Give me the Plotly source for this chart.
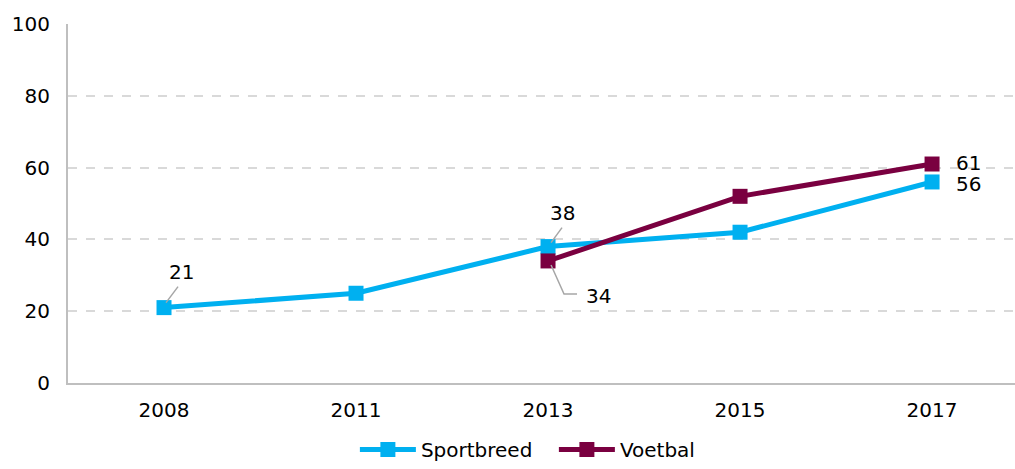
import plotly.graph_objects as go

years = ["2008", "2011", "2013", "2015", "2017"]
sportbreed = [21, 25, 38, 42, 56]
voetbal = [None, None, 34, 52, 61]
y_ticks = [0, 20, 40, 60, 80, 100]

BLUE = "#00B0F0"
MAROON = "#7A0040"
LEADER = "#A6A6A6"
FONT = "DejaVu Sans"

fig = go.Figure()
fig.add_trace(go.Scatter(
    x=years, y=sportbreed, name="Sportbreed", mode="lines+markers",
    line=dict(color=BLUE, width=5),
    marker=dict(symbol="square", size=15, color=BLUE),
))
fig.add_trace(go.Scatter(
    x=years, y=voetbal, name="Voetbal", mode="lines+markers",
    line=dict(color=MAROON, width=5),
    marker=dict(symbol="square", size=15, color=MAROON),
))

# category positions (serial numbers on the category axis)
pos = {year: i for i, year in enumerate(years)}
label_font = dict(family=FONT, size=20, color="#000000")


def value_label(year, value, dx, dy, anchor="center"):
    fig.add_annotation(x=pos[year], y=value, text=str(value), showarrow=False,
                       xanchor=anchor, xshift=dx, yshift=dy, font=label_font)


def leader(year, value, path):
    # path in pixels relative to the data point (y positive = up)
    fig.add_shape(type="path", xref="x", yref="y",
                  xsizemode="pixel", ysizemode="pixel",
                  xanchor=pos[year], yanchor=value, path=path,
                  line=dict(color=LEADER, width=1.5), layer="above")


value_label("2008", sportbreed[0], 17, 36)
leader("2008", sportbreed[0], "M 2,5 L 14,21")

value_label("2013", sportbreed[2], 14, 34)
leader("2013", sportbreed[2], "M 3,4 L 14,19")

value_label("2013", voetbal[2], 36, -35, anchor="left")
leader("2013", voetbal[2], "M 3,-4 L 16,-33 L 29,-33")

value_label("2017", voetbal[4], 22, 1, anchor="left")
value_label("2017", sportbreed[4], 22, -2, anchor="left")

fig.update_layout(
    width=1015, height=469,
    margin=dict(l=68, r=0, t=24, b=86, autoexpand=False),
    paper_bgcolor="white", plot_bgcolor="white",
    font=dict(family=FONT, size=20, color="#000000"),
    showlegend=True,
    legend=dict(orientation="h", xref="container", yref="container",
                x=0.5457, xanchor="center", y=0, yanchor="bottom",
                itemwidth=56, entrywidth=128, font=dict(family=FONT, size=20),
                tracegroupgap=0, bgcolor="rgba(0,0,0,0)"),
    xaxis=dict(type="category", range=[-0.5, 4.432],
               showgrid=False, showline=True, linecolor="#BFBFBF", linewidth=2,
               ticks="", ticklabelstandoff=8, zeroline=False),
    yaxis=dict(range=[0, 100], tickvals=y_ticks,
               showgrid=True, gridcolor="#D9D9D9", griddash="dash", gridwidth=1.5,
               showline=True, linecolor="#BFBFBF", linewidth=2,
               ticks="", ticklabelstandoff=12, zeroline=False),
)

fig.write_html("out.html")
